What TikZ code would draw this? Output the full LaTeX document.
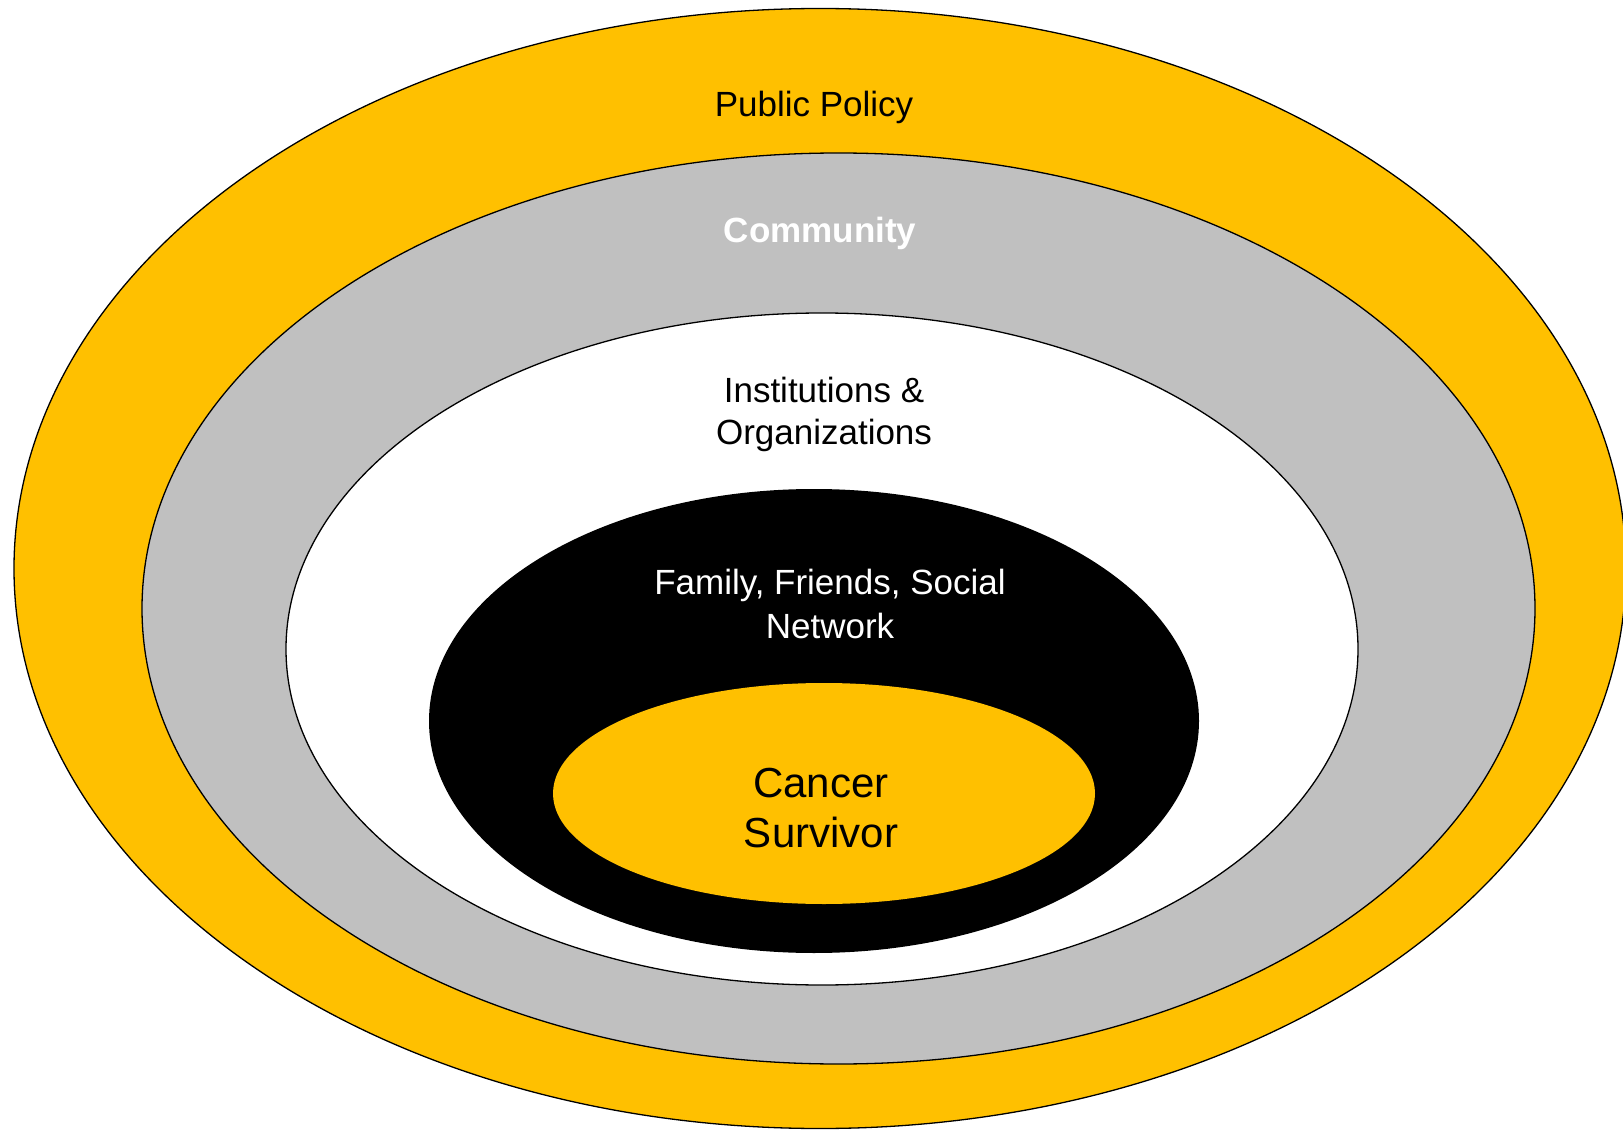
\documentclass[tikz,border=0pt]{standalone}
\usepackage{fontspec}
\setmainfont{Liberation Sans}

\definecolor{oro}{HTML}{FFC000}
\definecolor{gris}{HTML}{C0C0C0}

\tikzset{
    anillo/.style={draw=black, line width=1.3pt},
    etiqueta/.style={align=center, anchor=base, font=\fontsize{35}{42}\selectfont},
}

\begin{document}
\begin{tikzpicture}[x=1pt,y=-1pt]

    % marco
    \useasboundingbox (0,0) rectangle (1623,1131);
    \fill[white] (0,0) rectangle (1623,1131);

    % politica publica
    \filldraw[anillo, fill=oro] (820,568.5) ellipse [x radius=806, y radius=560];

    % comunidad
    \filldraw[anillo, fill=gris] (838.5,608.5) ellipse [x radius=696.5, y radius=455.5];

    % instituciones
    \filldraw[anillo, fill=white] (822,649) ellipse [x radius=536, y radius=336];

    % familia y amigos
    \fill[black] (814,721) ellipse [x radius=385, y radius=232];

    % sobreviviente
    \fill[oro] (824,793.5) ellipse [x radius=271, y radius=110.5];

    %leyendas
    \node[etiqueta] (politica) at (814,117) {Public Policy};
    \node[etiqueta, text=white, font=\fontsize{35}{42}\selectfont\bfseries] (comunidad) at (820,243) {Community};
    \node[etiqueta] (instituciones) at (824,445) {Institutions \&\\Organizations};
    \node[etiqueta, text=white, font=\fontsize{35}{44}\selectfont] (familia) at (830,638) {Family, Friends, Social\\Network};
    \node[etiqueta, font=\fontsize{42}{50}\selectfont] (sobreviviente) at (821,847) {Cancer\\Survivor};

\end{tikzpicture}
\end{document}
